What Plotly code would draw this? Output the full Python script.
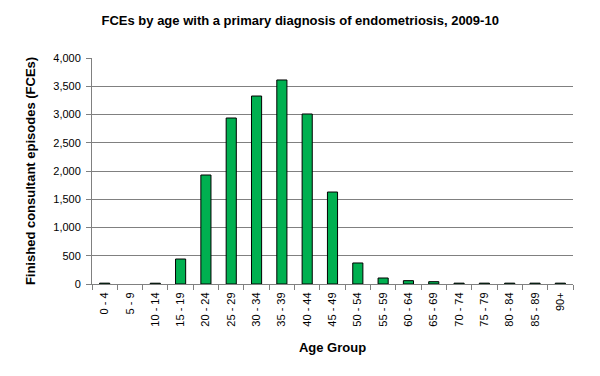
import plotly.graph_objects as go

age_groups = ["0 - 4", "5 - 9", "10 - 14", "15 - 19", "20 - 24", "25 - 29", "30 - 34",
              "35 - 39", "40 - 44", "45 - 49", "50 - 54", "55 - 59", "60 - 64", "65 - 69",
              "70 - 74", "75 - 79", "80 - 84", "85 - 89", "90+"]
fces = [15, 0, 14, 442, 1929, 2938, 3327, 3611, 3009, 1628, 372, 106, 59, 41,
        15, 15, 15, 15, 15]
y_ticks = [0, 500, 1000, 1500, 2000, 2500, 3000, 3500, 4000]

line_widths = [0 if v == 0 else 1 for v in fces]

fig = go.Figure(go.Bar(
    x=age_groups, y=fces,
    marker=dict(color="#00B050", line=dict(color="#000000", width=line_widths)),
))

fig.update_layout(
    width=600, height=376,
    paper_bgcolor="white", plot_bgcolor="white",
    margin=dict(l=84, r=35, t=50, b=100),
    bargap=0.6,
    showlegend=False,
    font=dict(family="Liberation Sans, Arial, sans-serif", size=11, color="#000000"),
    title=dict(text="<b>FCEs by age with a primary diagnosis of endometriosis, 2009-10</b>",
               x=0.487, xanchor="center", y=0.968, yanchor="middle",
               font=dict(size=13, color="#000000")),
)
fig.update_xaxes(
    type="category", tickson="boundaries", ticks="outside", ticklen=5,
    tickcolor="#808080", showline=True, linecolor="#808080", linewidth=1,
    tickangle=-90, tickfont=dict(size=11), showgrid=False, ticklabelstandoff=3,
    title=dict(text="<b>Age Group</b>", font=dict(size=13), standoff=17),
)
fig.update_yaxes(
    range=[0, 4000], tickvals=y_ticks, tickformat=",", ticks="outside", ticklen=5,
    tickcolor="#808080", showline=True, linecolor="#808080", linewidth=1,
    showgrid=True, gridcolor="#808080", gridwidth=1, zeroline=False,
    tickfont=dict(size=11), ticklabelstandoff=3,
    title=dict(text="<b>Finished consultant episodes (FCEs)</b>", font=dict(size=13), standoff=14),
)

fig.write_html("out.html")
